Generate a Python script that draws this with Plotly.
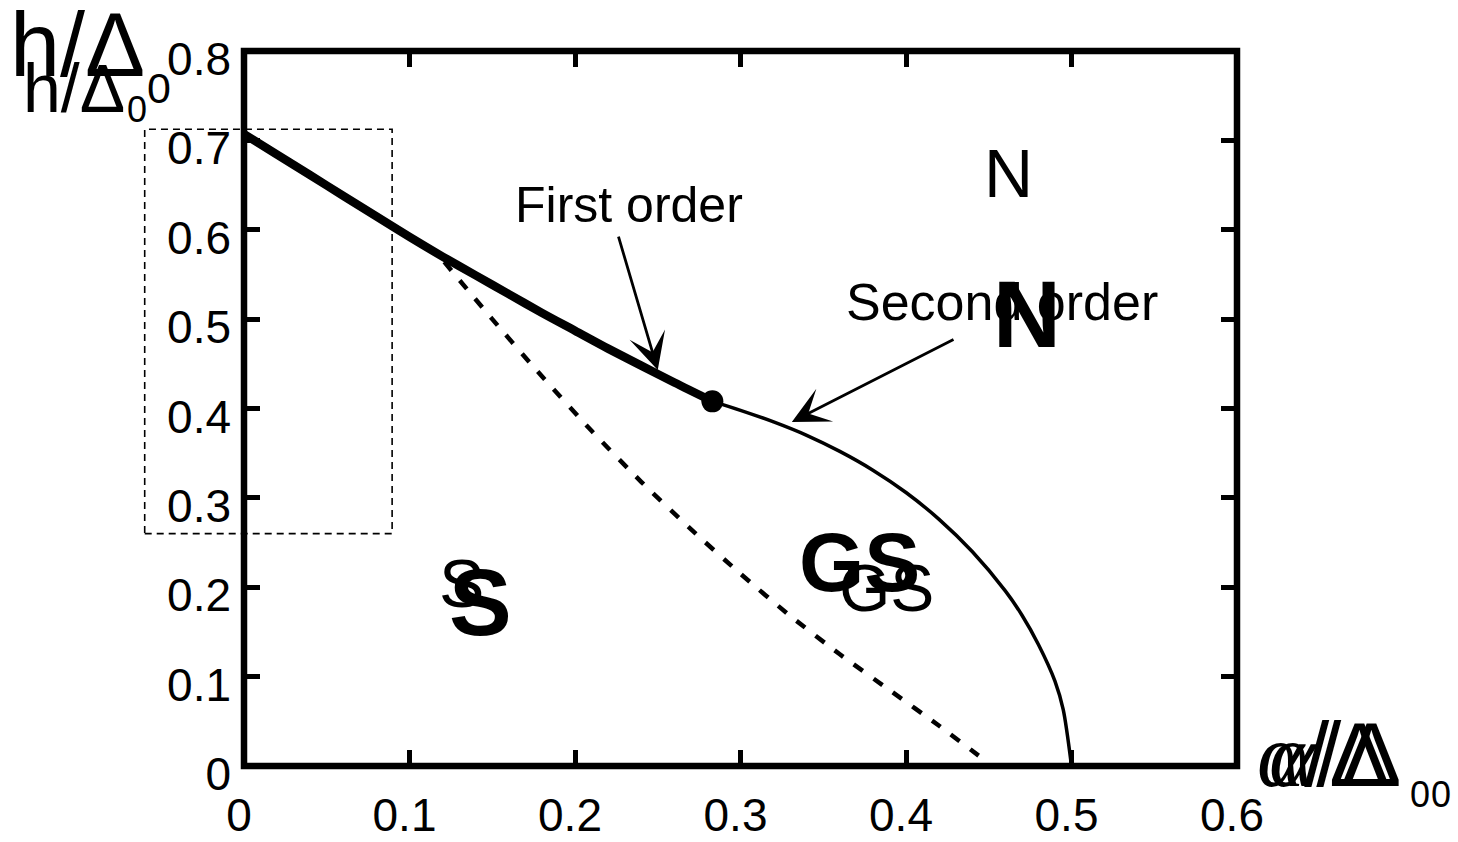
import plotly.graph_objects as go

# Phase boundaries in the (alpha/Delta0, h/Delta0) plane
first_order_alpha = [0.0, 0.02, 0.04, 0.06, 0.08, 0.10, 0.12, 0.14, 0.16, 0.18, 0.20, 0.22, 0.24, 0.26, 0.283]
first_order_h = [0.707, 0.684, 0.661, 0.638, 0.615, 0.592, 0.570, 0.549, 0.528, 0.507, 0.487, 0.467, 0.448, 0.429, 0.408]

second_order_alpha = [0.283, 0.30, 0.32, 0.34, 0.36, 0.38, 0.40, 0.42, 0.44, 0.46, 0.47, 0.48, 0.49, 0.495, 0.5]
second_order_h = [0.408, 0.398, 0.385, 0.370, 0.352, 0.331, 0.306, 0.276, 0.240, 0.196, 0.169, 0.136, 0.095, 0.063, 0.0]

metastable_alpha = [0.121, 0.15, 0.18, 0.21, 0.24, 0.27, 0.30, 0.33, 0.36, 0.39, 0.42, 0.45]
metastable_h = [0.564, 0.500, 0.436, 0.375, 0.318, 0.265, 0.215, 0.168, 0.125, 0.085, 0.045, 0.003]

tricritical_alpha = [0.283]
tricritical_h = [0.408]

x_ticks = [0, 0.1, 0.2, 0.3, 0.4, 0.5, 0.6]
x_tick_labels = ["0", "0.1", "0.2", "0.3", "0.4", "0.5", "0.6"]
y_ticks = [0, 0.1, 0.2, 0.3, 0.4, 0.5, 0.6, 0.7, 0.8]
y_tick_labels = ["0", "0.1", "0.2", "0.3", "0.4", "0.5", "0.6", "0.7", "0.8"]

X_RANGE = [0, 0.6]
Y_RANGE = [0, 0.8]

# inset window marked on the phase diagram (alpha range, h range)
inset_alpha = [-0.06, 0.0895]
inset_h = [0.26, 0.7125]

W, H = 1458, 842
ML, MR, MT, MB = 244, 221, 51, 76
PW, PH = W - ML - MR, H - MT - MB

FONT = "Liberation Sans, Arial, sans-serif"


def px_to_paper(px, py):
    return (px - ML) / PW, (H - MB - py) / PH


def to_paper_x(v):
    return (v - X_RANGE[0]) / (X_RANGE[1] - X_RANGE[0])


def to_paper_y(v):
    return (v - Y_RANGE[0]) / (Y_RANGE[1] - Y_RANGE[0])


fig = go.Figure()

fig.add_trace(go.Scatter(
    x=metastable_alpha, y=metastable_h, mode="lines",
    line=dict(color="black", width=4.5, dash="11px,13px", shape="spline", smoothing=0.6),
    showlegend=False,
))
fig.add_trace(go.Scatter(
    x=second_order_alpha, y=second_order_h, mode="lines",
    line=dict(color="black", width=3.5, shape="spline", smoothing=0.8),
    showlegend=False,
))
fig.add_trace(go.Scatter(
    x=first_order_alpha, y=first_order_h, mode="lines",
    line=dict(color="black", width=8.5, shape="spline", smoothing=0.8),
    showlegend=False,
))
fig.add_trace(go.Scatter(
    x=tricritical_alpha, y=tricritical_h, mode="markers",
    marker=dict(color="black", size=22),
    showlegend=False, cliponaxis=False,
))

shapes = [
    # dashed inset box
    dict(type="rect", xref="paper", yref="paper",
         x0=to_paper_x(inset_alpha[0]), x1=to_paper_x(inset_alpha[1]),
         y0=to_paper_y(inset_h[0]), y1=to_paper_y(inset_h[1]),
         line=dict(color="black", width=1.6, dash="7px,5px")),
    # heavy frame around the plotting area
    dict(type="rect", xref="paper", yref="paper", x0=0, x1=1, y0=0, y1=1,
         line=dict(color="black", width=6.5)),
]

annotations = []


def label(text, x, y, size, bold=False):
    annotations.append(dict(
        text=f"<b>{text}</b>" if bold else text, x=x, y=y, xref="x", yref="y",
        showarrow=False, xanchor="center", yanchor="middle",
        font=dict(family=FONT, size=size, color="black"),
    ))


label("First order", 0.2326, 0.6275, 50)
label("Second order", 0.458, 0.519, 52)
label("N", 0.462, 0.663, 68)
label("N", 0.4734, 0.505, 94, bold=True)
label("S", 0.1315, 0.2047, 68)
label("S", 0.1426, 0.183, 94, bold=True)
label("GS", 0.3716, 0.228, 84, bold=True)
label("GS", 0.388, 0.199, 66)


def arrow(tail, tip):
    annotations.append(dict(
        text="", x=tip[0], y=tip[1], ax=tail[0], ay=tail[1],
        xref="x", yref="y", axref="x", ayref="y",
        showarrow=True, arrowhead=3, arrowsize=2.2, arrowwidth=2.8,
        arrowcolor="black", standoff=0, startstandoff=0,
    ))


arrow((0.226, 0.594), (0.250, 0.443))
arrow((0.4296, 0.478), (0.331, 0.385))


def free_text(text, px, py, size, anchor="left", family=FONT):
    x, y = px_to_paper(px, py)
    annotations.append(dict(
        text=text, x=x, y=y, xref="paper", yref="paper",
        showarrow=False, xanchor=anchor, yanchor="middle",
        font=dict(family=family, size=size, color="black"),
    ))


# vertical axis title (drawn twice, overlapping)
free_text("h/Δ", 8, 45, 90)
free_text("0", 159, 88, 43, anchor="center")
free_text("h/Δ", 21, 88, 68)
free_text("0", 137, 110, 36, anchor="center")

# horizontal axis title (drawn twice, overlapping)
alpha_title = '<span style="font-family:Liberation Serif"><i>α</i></span>/Δ'
free_text(alpha_title, 1255, 755, 90)
free_text(alpha_title, 1267, 755, 90)
free_text("0", 1420, 794, 36, anchor="center")
free_text("0", 1441, 794, 36, anchor="center")

axis_common = dict(
    showgrid=False, zeroline=False, showline=False, automargin=False,
    ticks="inside", ticklen=16, tickwidth=4.5, tickcolor="black",
    mirror="ticks", tickfont=dict(family=FONT, size=46, color="black"),
)

fig.update_layout(
    width=W, height=H,
    margin=dict(l=ML, r=MR, t=MT, b=MB, pad=0, autoexpand=False),
    paper_bgcolor="white", plot_bgcolor="white",
    showlegend=False,
    xaxis=dict(range=X_RANGE, tickvals=x_ticks, ticktext=x_tick_labels,
               ticklabelstandoff=18, ticklabelshift=-5, **axis_common),
    yaxis=dict(range=Y_RANGE, tickvals=y_ticks, ticktext=y_tick_labels,
               ticklabelstandoff=12, ticklabelshift=8, **axis_common),
    shapes=shapes,
    annotations=annotations,
)

fig.write_html("out.html")
